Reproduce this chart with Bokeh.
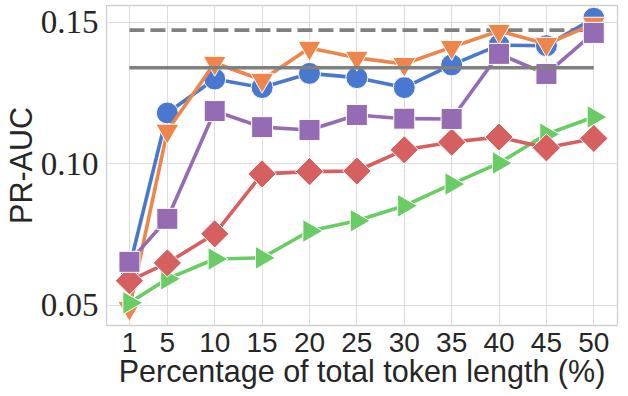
import math
from bokeh.plotting import figure
from bokeh.models import Range1d, FixedTicker, PrintfTickFormatter
from bokeh.embed import file_html
from bokeh.resources import INLINE

# ---- data ----
pct = [1, 5, 10, 15, 20, 25, 30, 35, 40, 45, 50]
tick_labels = ["1", "5", "10", "15", "20", "25", "30", "35", "40", "45", "50"]

blue_circle = [0.0635, 0.118, 0.130, 0.127, 0.132, 0.1305, 0.127, 0.135, 0.142, 0.1418, 0.1515]
orange_tri_down = [0.0490, 0.1117, 0.1357, 0.1297, 0.141, 0.1375, 0.1353, 0.1413, 0.147, 0.1424, 0.1495]
green_tri_right = [0.0509, 0.0594, 0.0664, 0.0668, 0.0763, 0.0799, 0.0852, 0.0929, 0.1003, 0.1105, 0.1166]
red_diamond = [0.0587, 0.065, 0.0753, 0.0965, 0.0973, 0.0975, 0.105, 0.1077, 0.1095, 0.1057, 0.109]
purple_square = [0.0654, 0.0806, 0.1187, 0.113, 0.112, 0.1173, 0.116, 0.1159, 0.1389, 0.1318, 0.1463]

ref_dashed = 0.1473
ref_solid = 0.134

y_ticks = [0.05, 0.10, 0.15]
x_title = "Percentage of total token length (%)"
y_title = "PR-AUC"

p = figure(width=628, height=396, output_backend="svg", toolbar_location=None,
           x_range=Range1d(-1.42, 52.5), y_range=Range1d(0.0429, 0.156),
           min_border_left=105, min_border_right=11, min_border_top=5, min_border_bottom=71)

p.background_fill_color = "white"
p.border_fill_color = "white"
p.outline_line_color = "#d0d0d0"
p.outline_line_width = 1.3

# axes
p.xaxis.ticker = FixedTicker(ticks=pct)
p.xaxis.major_label_overrides = {x: s for x, s in zip(pct, tick_labels)}
p.yaxis.ticker = FixedTicker(ticks=y_ticks)
p.yaxis.formatter = PrintfTickFormatter(format="%.2f")

for ax in (p.xaxis, p.yaxis):
    ax.axis_line_color = None
    ax.major_tick_line_color = None
    ax.minor_tick_line_color = None
    ax.major_tick_out = 0
    ax.major_tick_in = 0
    ax.major_label_text_color = "#262626"
    ax.axis_label_text_color = "#262626"
    ax.axis_label_text_font = "Liberation Sans"
    ax.axis_label_text_font_style = "normal"
    ax.axis_label_text_font_size = "30.5px"

p.xaxis.major_label_text_font = "Liberation Sans"
p.xaxis.major_label_text_font_size = "28px"
p.xaxis.major_label_standoff = 7
p.xaxis.axis_label = x_title
p.xaxis.axis_label_standoff = -1

p.yaxis.major_label_text_font = "Liberation Serif"
p.yaxis.major_label_text_font_size = "33px"
p.yaxis.major_label_standoff = 8
p.yaxis.axis_label = y_title
p.yaxis.axis_label_standoff = 0

p.xgrid.grid_line_color = "#dcdcdc"
p.ygrid.grid_line_color = "#dcdcdc"
p.xgrid.grid_line_width = 1
p.ygrid.grid_line_width = 1

LW = 3.6

# dashed reference
p.line([pct[0], pct[-1]], [ref_dashed, ref_dashed], line_color="#808080",
       line_width=LW, line_dash="15 6")

series = [
    (blue_circle, "#4878d0", "circle", 22, 0.0),
    (orange_tri_down, "#ee854a", "inverted_triangle", 23, 0.0),
    (green_tri_right, "#6acc64", "triangle", 23, -math.pi / 2),
    (red_diamond, "#d65f5f", "square", 20, math.pi / 4),
    (purple_square, "#956cb4", "square", 21, 0.0),
]

for vals, col, mk, sz, ang in series:
    p.line(pct, vals, line_color=col, line_width=LW)
    p.scatter(pct, vals, marker=mk, size=sz, angle=ang, fill_color=col,
              line_color="white", line_width=1)

# solid reference on top
p.line([pct[0], pct[-1]], [ref_solid, ref_solid], line_color="#808080", line_width=LW)

open("out.html", "w").write(file_html(p, INLINE))
